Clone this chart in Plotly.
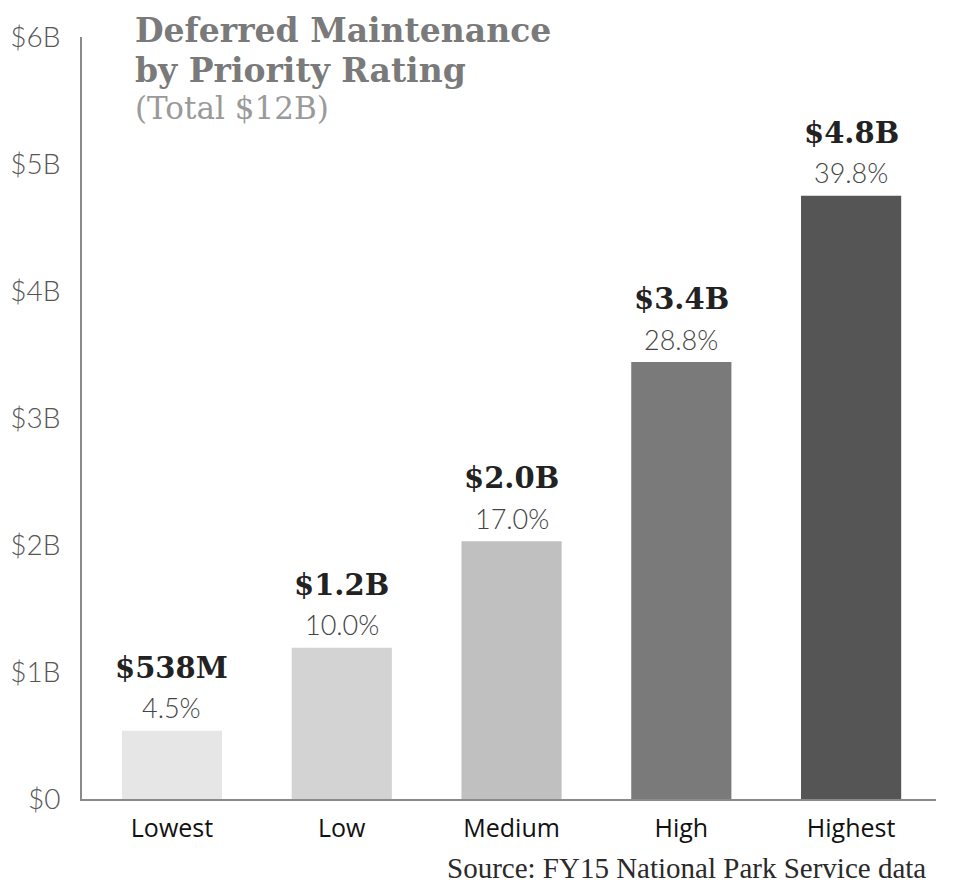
import plotly.graph_objects as go

categories = ["Lowest", "Low", "Medium", "High", "Highest"]
values_b = [0.538, 1.19, 2.03, 3.44, 4.75]
value_labels = ["$538M", "$1.2B", "$2.0B", "$3.4B", "$4.8B"]
pct_labels = ["4.5%", "10.0%", "17.0%", "28.8%", "39.8%"]
bar_colors = ["#e6e6e6", "#d3d3d3", "#c0c0c0", "#7a7a7a", "#555555"]
y_tickvals = [0, 1, 2, 3, 4, 5, 6]
y_ticktext = ["$0", "$1B", "$2B", "$3B", "$4B", "$5B", "$6B"]
title_lines = ["Deferred Maintenance", "by Priority Rating", "(Total $12B)"]

fig = go.Figure()
fig.add_trace(go.Bar(
    x=list(range(len(categories))), y=values_b,
    marker=dict(color=bar_colors, line=dict(width=0)),
    width=0.59, hoverinfo="skip",
))

for i, (v, vl, pl) in enumerate(zip(values_b, value_labels, pct_labels)):
    fig.add_annotation(x=i, y=v, xref="x", yref="y", text=vl, showarrow=False,
                       yanchor="middle", yshift=63,
                       font=dict(family="DejaVu Serif", size=29, color="#222222", weight="bold"))
    fig.add_annotation(x=i, y=v, xref="x", yref="y", text=pl, showarrow=False,
                       yanchor="middle", yshift=23,
                       font=dict(family="Lato", size=27, color="#444444", weight=300))

title_shifts = [7, -33, -71]
title_fonts = [
    dict(family="DejaVu Serif", size=33, color="#7a7a7a", weight="bold"),
    dict(family="DejaVu Serif", size=33, color="#7a7a7a", weight="bold"),
    dict(family="DejaVu Serif", size=31, color="#9a9a9a"),
]
for line, ys, f in zip(title_lines, title_shifts, title_fonts):
    fig.add_annotation(
        xref="paper", yref="paper", x=0.06, y=1, xanchor="left", yanchor="middle", yshift=ys,
        align="left", showarrow=False, text=line, font=f,
    )

fig.add_annotation(
    xref="paper", yref="paper", x=1, y=0, xanchor="right", yanchor="middle",
    yshift=-69, xshift=-8,
    showarrow=False, text="Source: FY15 National Park Service data",
    font=dict(family="Liberation Serif", size=29, color="#2a2a2a"),
)

fig.update_layout(
    width=946, height=878,
    margin=dict(l=74, r=18, t=29, b=87),
    paper_bgcolor="white", plot_bgcolor="white",
    showlegend=False,
    xaxis=dict(range=[-0.53, 4.5], tickvals=list(range(len(categories))), ticktext=categories,
               showline=True, linecolor="#8a8a8a", linewidth=2, showgrid=False, zeroline=False,
               ticks="", ticklabelstandoff=6, automargin=False,
               tickfont=dict(family="Open Sans", size=25, color="#111111")),
    yaxis=dict(range=[0, 6], tickvals=y_tickvals, ticktext=y_ticktext,
               showline=True, linecolor="#8a8a8a", linewidth=2, showgrid=False, zeroline=False,
               ticks="", ticklabelstandoff=14, automargin=False,
               tickfont=dict(family="Lato", size=28, color="#555555", weight=300)),
)

fig.write_html("out.html")
